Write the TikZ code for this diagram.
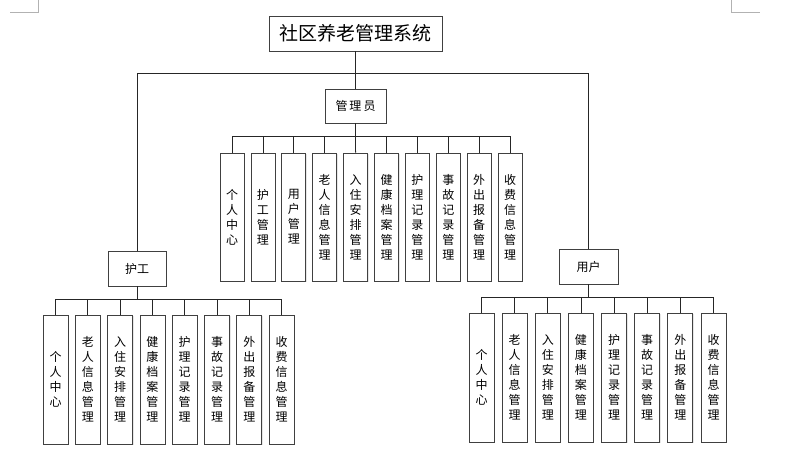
\documentclass[tikz,border=0pt]{standalone}
\usepackage{fontspec}
\newfontfamily\cjk{Noto Sans CJK SC}
\usetikzlibrary{shadows}
\tikzset{
  box/.style={draw=black!75, line width=0.8pt, fill=white, inner sep=0pt, align=center,
    drop shadow={opacity=0.2, shadow xshift=1pt, shadow yshift=-1pt}},
  leaf/.style={box, minimum width=24pt, minimum height=128pt, font=\cjk\fontsize{12}{15}\selectfont},
  role/.style={box, minimum width=59pt, minimum height=35pt, font=\cjk\fontsize{12}{14}\selectfont},
  wire/.style={line width=0.8pt, black!85},
}

\begin{document}
\begin{tikzpicture}[x=1pt, y=-1pt]
			%%%%% START %%%%%
			\useasboundingbox (0,0) rectangle (794,455);
			
			\draw[black!30] (10,12) -- (38.5,12) -- (38.5,0);
			\draw[black!30] (731,0) -- (731,12) -- (760,12);
			
			\node[box, minimum width=173pt, minimum height=35pt, font=\cjk\fontsize{19}{21}\selectfont] (sys) at (355.5,33.5) {社区养老管理系统};
			
			\node[role, minimum width=61pt, minimum height=34pt] (admin) at (355.5,106) {管\,理\,员};
			\node[role, minimum width=58pt] (nurse) at (137,268.5) {护工};
			\node[role] (user) at (588.5,266.5) {用户};
			
			% admin
			\node[leaf] (a1) at (232,217) {个\\人\\中\\心};
			\node[leaf] (a2) at (262.9,217) {护\\工\\管\\理};
			\node[leaf] (a3) at (293.8,217) {用\\户\\管\\理};
			\node[leaf] (a4) at (324.7,217) {老\\人\\信\\息\\管\\理};
			\node[leaf] (a5) at (355.6,217) {入\\住\\安\\排\\管\\理};
			\node[leaf] (a6) at (386.5,217) {健\\康\\档\\案\\管\\理};
			\node[leaf] (a7) at (417.4,217) {护\\理\\记\\录\\管\\理};
			\node[leaf] (a8) at (448.3,217) {事\\故\\记\\录\\管\\理};
			\node[leaf] (a9) at (479.2,217) {外\\出\\报\\备\\管\\理};
			\node[leaf] (a10) at (510.1,217) {收\\费\\信\\息\\管\\理};
			
			% nurse
			\node[leaf, minimum width=25pt, minimum height=129pt] (n1) at (55.5,379.5) {个\\人\\中\\心};
			\node[leaf, minimum width=25pt, minimum height=129pt] (n2) at (87.8,379.5) {老\\人\\信\\息\\管\\理};
			\node[leaf, minimum width=25pt, minimum height=129pt] (n3) at (120.1,379.5) {入\\住\\安\\排\\管\\理};
			\node[leaf, minimum width=25pt, minimum height=129pt] (n4) at (152.4,379.5) {健\\康\\档\\案\\管\\理};
			\node[leaf, minimum width=25pt, minimum height=129pt] (n5) at (184.7,379.5) {护\\理\\记\\录\\管\\理};
			\node[leaf, minimum width=25pt, minimum height=129pt] (n6) at (217,379.5) {事\\故\\记\\录\\管\\理};
			\node[leaf, minimum width=25pt, minimum height=129pt] (n7) at (249.3,379.5) {外\\出\\报\\备\\管\\理};
			\node[leaf, minimum width=25pt, minimum height=129pt] (n8) at (281.6,379.5) {收\\费\\信\\息\\管\\理};
			
			% user
			\node[leaf, minimum width=25pt, minimum height=129pt] (u1) at (481.5,377.5) {个\\人\\中\\心};
			\node[leaf, minimum width=25pt, minimum height=129pt] (u2) at (514.6,377.5) {老\\人\\信\\息\\管\\理};
			\node[leaf, minimum width=25pt, minimum height=129pt] (u3) at (547.8,377.5) {入\\住\\安\\排\\管\\理};
			\node[leaf, minimum width=25pt, minimum height=129pt] (u4) at (580.9,377.5) {健\\康\\档\\案\\管\\理};
			\node[leaf, minimum width=25pt, minimum height=129pt] (u5) at (614.1,377.5) {护\\理\\记\\录\\管\\理};
			\node[leaf, minimum width=25pt, minimum height=129pt] (u6) at (647.2,377.5) {事\\故\\记\\录\\管\\理};
			\node[leaf, minimum width=25pt, minimum height=129pt] (u7) at (680.3,377.5) {外\\出\\报\\备\\管\\理};
			\node[leaf, minimum width=25pt, minimum height=129pt] (u8) at (713.5,377.5) {收\\费\\信\\息\\管\\理};
			
			% top level
			\draw[wire] (sys.south) -- (admin.north);
			\draw[wire] (sys.south) -- ++(0,22) -| (nurse.north);
			\draw[wire] (sys.south) -- ++(0,22) -| (user.north);
			
			\draw[wire] (admin.south) -- ++(0,13) -| (a1.north);
			\draw[wire] (admin.south) -- ++(0,13) -| (a2.north);
			\draw[wire] (admin.south) -- ++(0,13) -| (a3.north);
			\draw[wire] (admin.south) -- ++(0,13) -| (a4.north);
			\draw[wire] (admin.south) -- (a5.north);
			\draw[wire] (admin.south) -- ++(0,13) -| (a6.north);
			\draw[wire] (admin.south) -- ++(0,13) -| (a7.north);
			\draw[wire] (admin.south) -- ++(0,13) -| (a8.north);
			\draw[wire] (admin.south) -- ++(0,13) -| (a9.north);
			\draw[wire] (admin.south) -- ++(0,13) -| (a10.north);
			
			\draw[wire] (nurse.south) -- ++(0,13) -| (n1.north);
			\draw[wire] (nurse.south) -- ++(0,13) -| (n2.north);
			\draw[wire] (nurse.south) -- ++(0,13) -| (n3.north);
			\draw[wire] (nurse.south) -- ++(0,13) -| (n4.north);
			\draw[wire] (nurse.south) -- ++(0,13) -| (n5.north);
			\draw[wire] (nurse.south) -- ++(0,13) -| (n6.north);
			\draw[wire] (nurse.south) -- ++(0,13) -| (n7.north);
			\draw[wire] (nurse.south) -- ++(0,13) -| (n8.north);
			
			\draw[wire] (user.south) -- ++(0,13) -| (u1.north);
			\draw[wire] (user.south) -- ++(0,13) -| (u2.north);
			\draw[wire] (user.south) -- ++(0,13) -| (u3.north);
			\draw[wire] (user.south) -- ++(0,13) -| (u4.north);
			\draw[wire] (user.south) -- ++(0,13) -| (u5.north);
			\draw[wire] (user.south) -- ++(0,13) -| (u6.north);
			\draw[wire] (user.south) -- ++(0,13) -| (u7.north);
			\draw[wire] (user.south) -- ++(0,13) -| (u8.north);
			
			%%%%% END %%%%%
\end{tikzpicture}
\end{document}
